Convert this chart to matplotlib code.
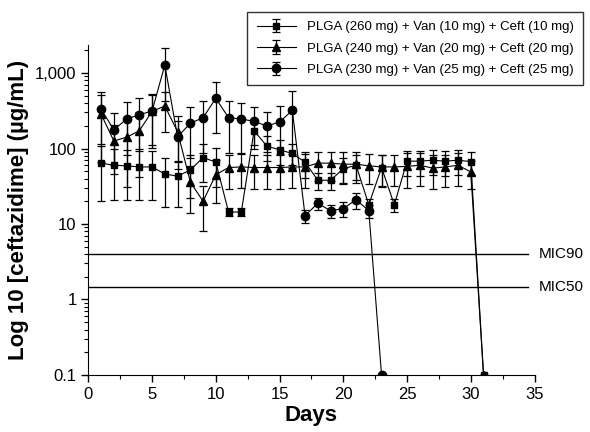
import numpy as np
import matplotlib
matplotlib.use("Agg")
import matplotlib.pyplot as plt
from matplotlib.ticker import FixedLocator, LogLocator, NullFormatter, MultipleLocator

plt.rcParams['font.family'] = ['Liberation Sans', 'DejaVu Sans']

# ==== DATA ====
days_sq = list(range(1, 32))
conc_sq = [64, 60, 59, 57, 57, 46, 43, 52, 76, 66, 14.4, 14.4, 172, 108, 96, 86,
           66, 38, 38, 54, 60, 18, 56, 18, 68, 68, 70, 68, 70, 67, 0.1]
sd_sq = [44, 39, 38, 36, 36, 29, 26, 30, 40, 35, 1.7, 1.7, 60, 40, 35, 30,
         25, 10, 10, 20, 22, 3.7, 25, 3.7, 25, 25, 25, 25, 25, 22, 0]

days_tri = list(range(1, 32))
conc_tri = [286, 126, 141, 172, 310, 366, 167, 36, 20, 45, 56, 57, 56, 56, 56, 57,
            57, 64, 64, 62, 62, 59, 57, 57, 58, 60, 55, 57, 60, 49, 0.1]
sd_tri = [220, 80, 110, 130, 200, 200, 100, 22, 12, 26, 27, 27, 27, 27, 27, 27,
          27, 27, 27, 27, 27, 25, 25, 25, 28, 28, 26, 26, 28, 20, 0]

days_circ = list(range(1, 24))
conc_circ = [334, 176, 246, 280, 314, 1276, 143, 216, 256, 462, 256, 246, 229, 199,
             224, 321, 12.9, 18.8, 15, 16, 21, 15, 0.1]
sd_circ = [220, 116, 163, 180, 213, 850, 90, 140, 170, 300, 170, 160, 130, 110,
           140, 260, 2.5, 3.5, 3, 3.5, 5, 3, 0]

labels = ["PLGA (260 mg) + Van (10 mg) + Ceft (10 mg)",
          "PLGA (240 mg) + Van (20 mg) + Ceft (20 mg)",
          "PLGA (230 mg) + Van (25 mg) + Ceft (25 mg)"]

mic_values = [4.0, 1.45]
mic_names = ["MIC90", "MIC50"]

# ==== PLOT ====
fig = plt.figure(figsize=(5.9, 4.32), dpi=100)
ax = fig.add_axes([0.1497, 0.132, 0.906 - 0.1497, 0.8958 - 0.132])

series = [(days_sq, conc_sq, sd_sq, 's', 5.0),
          (days_tri, conc_tri, sd_tri, '^', 6.0),
          (days_circ, conc_circ, sd_circ, 'o', 6.0)]
for (d, c, s, m, ms), lab in zip(series, labels):
    ax.errorbar(d, c, yerr=s, fmt='-', marker=m, color='black', ms=ms, lw=0.8,
                elinewidth=0.9, capsize=3, capthick=0.9, label=lab)

for v, name in zip(mic_values, mic_names):
    ax.plot([0, 34.5], [v, v], color='black', lw=1.0)
    ax.text(35.3, v, name, va='center', ha='left', fontsize=11, clip_on=False)

ax.set_yscale('log')
ax.set_ylim(0.1, 2350)
ax.set_xlim(0, 35)

ax.yaxis.set_major_locator(FixedLocator([0.1, 1, 10, 100, 1000]))
ax.set_yticklabels(['0.1', '1', '10', '100', '1,000'])
ax.yaxis.set_minor_locator(LogLocator(base=10, subs=np.arange(2, 10)))
ax.yaxis.set_minor_formatter(NullFormatter())
ax.xaxis.set_major_locator(MultipleLocator(5))
ax.xaxis.set_minor_locator(MultipleLocator(2.5))

ax.spines['top'].set_visible(False)
ax.spines['right'].set_visible(False)
ax.tick_params(which='major', direction='out', length=5, width=1, labelsize=12)
ax.tick_params(which='minor', direction='out', length=3, width=0.8)

ax.set_xlabel('Days', fontsize=16, fontweight='bold', labelpad=2)
ax.set_ylabel('Log 10 [ceftazidime] (µg/mL)', fontsize=16, fontweight='bold', labelpad=4)

leg = ax.legend(loc='upper right', bbox_to_anchor=(0.988, 0.973),
                bbox_transform=fig.transFigure, fontsize=9.5, frameon=True,
                fancybox=False, edgecolor='black', handlelength=3.0,
                borderaxespad=0, labelspacing=0.7, borderpad=0.7)
leg.get_frame().set_linewidth(1.0)

fig.savefig('out.png', dpi=100)
